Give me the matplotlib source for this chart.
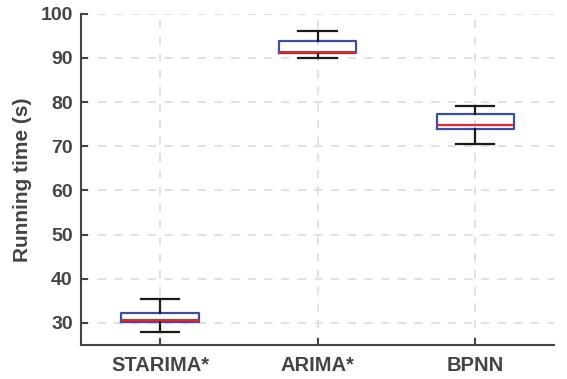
import matplotlib
matplotlib.use('Agg')
import matplotlib.pyplot as plt

# values
models = ['STARIMA*', 'ARIMA*', 'BPNN']
whislo = [28.0, 89.9, 70.5]
q1 = [30.2, 91.05, 74.0]
med = [30.7, 91.3, 74.8]
q3 = [32.3, 93.9, 77.2]
whishi = [35.4, 96.1, 79.2]

plt.rcParams['font.family'] = ['Liberation Sans', 'DejaVu Sans']
plt.rcParams['font.weight'] = 'bold'

stats = []
for i in range(len(models)):
    stats.append({'label': models[i], 'whislo': whislo[i], 'q1': q1[i], 'med': med[i],
                  'q3': q3[i], 'whishi': whishi[i], 'fliers': []})

fig = plt.figure(figsize=(5.67, 3.79), dpi=100)
ax = fig.add_axes([0.143, 0.0897, 0.834, 0.874])

ax.bxp(stats, widths=0.49, showfliers=False,
       boxprops=dict(color='#3b4ea6', linewidth=1.6),
       medianprops=dict(color='#e8262b', linewidth=1.6),
       whiskerprops=dict(color='#1a1a1a', linewidth=1.6),
       capprops=dict(color='#1a1a1a', linewidth=1.6),
       capwidths=0.245)

ax.set_xlim(0.5, 3.5)
ax.set_ylim(25, 100)
ax.set_yticks([30, 40, 50, 60, 70, 80, 90, 100])
ax.grid(True, linestyle=(0, (5, 5)), color='#dcdcdc', linewidth=1.2)
ax.set_axisbelow(True)

for s in ['top', 'right']:
    ax.spines[s].set_visible(False)
for s in ['left', 'bottom']:
    ax.spines[s].set_color('#444444')
    ax.spines[s].set_linewidth(1.5)

ax.tick_params(direction='in', length=5, width=1.5, color='#444444',
               labelcolor='#444444')
ax.tick_params(axis='y', labelsize=14, pad=6)
ax.tick_params(axis='x', labelsize=14.5, pad=8)
ax.set_ylabel('Running time (s)', fontsize=15, fontweight='bold', color='#444444', labelpad=6)

plt.savefig('out.png', dpi=100)
